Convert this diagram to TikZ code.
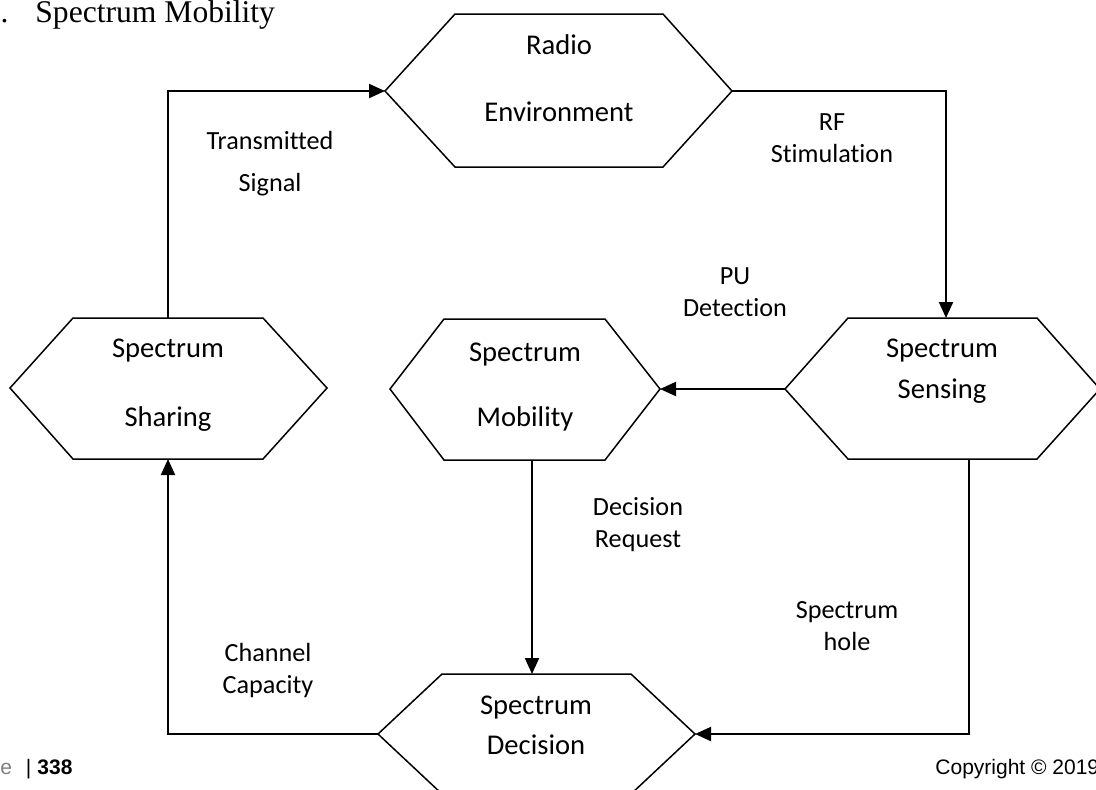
\documentclass[tikz,border=0pt]{standalone}
\usepackage{fontspec}
\setmainfont{Carlito}[Ligatures={NoCommon}]
\newfontfamily\headfont{Liberation Serif}
\newfontfamily\footfont{Liberation Sans}
\usetikzlibrary{arrows.meta}

\begin{document}
\begin{tikzpicture}[
  x=0.5pt,y=-0.5pt,
  flow/.style={-{Triangle[length=8pt,width=7pt]},draw=black,line width=1pt},
  hexa/.style={draw=black,line width=0.75pt},
  block/.style={font=\fontsize{14.3}{17.5}\selectfont,align=center,inner sep=0pt},
  tag/.style={font=\fontsize{13.1}{16}\selectfont,align=center,inner sep=0pt},
  foot/.style={font=\footfont\fontsize{10.5}{12}\selectfont,anchor=base west,inner sep=0pt},
]
\fill[white] (0,0) rectangle (1096,789);
\useasboundingbox (0,0) rectangle (1096,789);

% connection points on the hexagons
\coordinate (radio-l) at (385,91);
\coordinate (radio-r) at (732,91);
\coordinate (share-t) at (168,318);
\coordinate (share-b) at (168,459);
\coordinate (mob-r) at (660,389);
\coordinate (mob-b) at (532,460);
\coordinate (sense-t) at (946,318);
\coordinate (sense-l) at (785,389);
\coordinate (sense-b) at (969,459);
\coordinate (dec-t) at (532,674);
\coordinate (dec-l) at (378,734);
\coordinate (dec-r) at (695,734);

% hexagons
\draw[hexa] (455,14) -- (663,14) -- (radio-r) -- (663,167) -- (455,167) -- (radio-l) -- cycle;
\draw[hexa] (73,318) -- (263,318) -- (327,388) -- (263,459) -- (73,459) -- (10,388) -- cycle;
\draw[hexa] (444,319) -- (605,319) -- (mob-r) -- (605,460) -- (444,460) -- (390,389) -- cycle;
\draw[hexa] (848,318) -- (1037,318) -- (1100,389) -- (1037,459) -- (848,459) -- (sense-l) -- cycle;
\draw[hexa] (442,674) -- (631,674) -- (dec-r) -- (631,794) -- (442,794) -- (dec-l) -- cycle;

\node[block] (radio) at (559,78.5) {Radio\\[16pt]Environment};
\node[block] (share) at (168,385.5) {Spectrum\\[17pt]Sharing};
\node[block] (mob) at (525,387.5) {Spectrum\\[15pt]Mobility};
\node[block] (sense) at (942,371.5) {Spectrum\\[3pt]Sensing};
\node[block] (dec) at (536,725) {Spectrum\\[2.5pt]Decision};

% flow of the cycle
\draw[flow] (share-t) |- (radio-l);
\draw[flow] (radio-r) -| (sense-t);
\draw[flow] (sense-l) -- (mob-r);
\draw[flow] (mob-b) -- (dec-t);
\draw[flow] (sense-b) |- (dec-r);
\draw[flow] (dec-l) -| (share-b);

\node[tag] (txsig) at (270,164) {Transmitted\\[5pt]Signal};
\node[tag] (rfstim) at (832,138) {RF\\Stimulation};
\node[tag] (pudet) at (735,292.5) {PU\\Detection};
\node[tag] (decreq) at (638,525) {Decision\\Request};
\node[tag] (hole) at (847,626) {Spectrum\\hole};
\node[tag] (chcap) at (268,670) {Channel\\Capacity};

% page furniture
\node[font=\headfont\fontsize{15.8}{18}\selectfont,anchor=base west,inner sep=0pt] (title)
  at (35,22) {\llap{c.\hspace{13.5pt}}Spectrum Mobility};
\node[foot] (page) at (37,774) {\llap{\textcolor{black!50}{Page}\hspace{7pt}|\hspace{3pt}}\textbf{338}};
\node[foot] (copy) at (935,774) {Copyright © 2019};
\end{tikzpicture}
\end{document}
